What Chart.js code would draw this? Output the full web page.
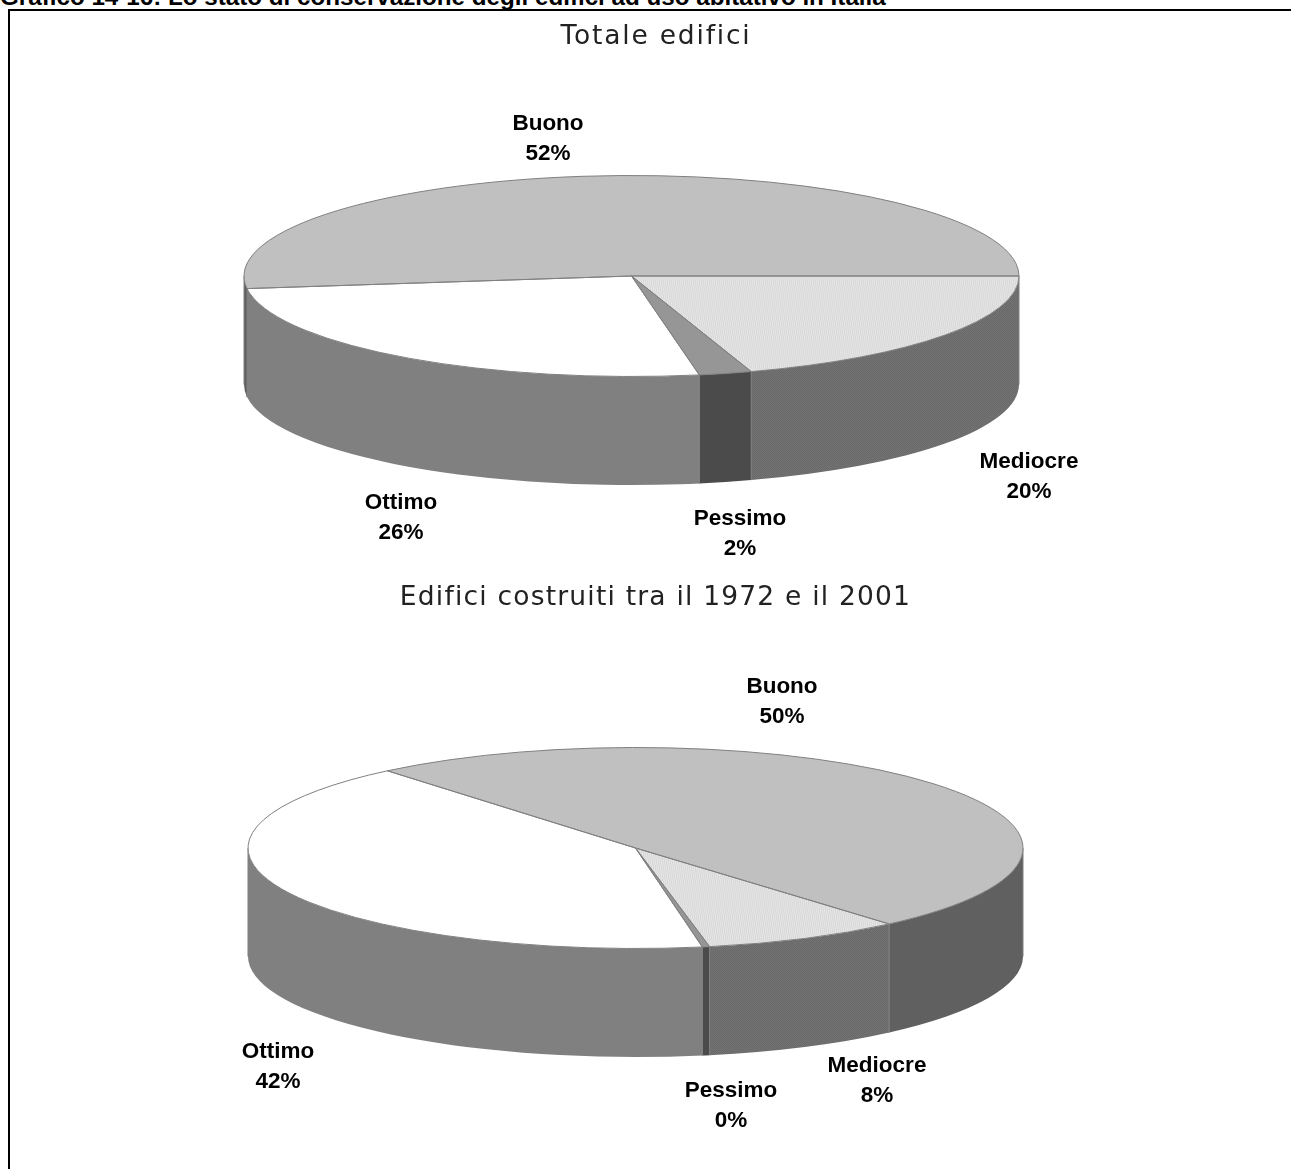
<!DOCTYPE html>
<html lang="it">
<head>
<meta charset="utf-8">
<title>Stato di conservazione degli edifici</title>
<script src="https://cdn.jsdelivr.net/npm/chart.js@4"></script>
<style>
    html, body { margin: 0; padding: 0; background: #fff; overflow: hidden; }
    body { width: 1291px; height: 1169px; position: relative; }
    #heading {
        position: absolute; left: 0; top: -17px; white-space: nowrap;
        font: bold 24.2px "Liberation Sans", Arial, sans-serif; color: #000;
    }
    #frame {
        position: absolute; left: 8px; top: 9px; right: 0; bottom: -10px;
        border-left: 2px solid #000; border-top: 2px solid #000;
        background: #fff;
    }
    canvas { position: absolute; left: 0; top: 0; }
</style>
</head>
<body>
<div id="heading">Grafico 14-16: Lo stato di conservazione degli edifici ad uso abitativo in Italia</div>
<div id="frame"></div>
<canvas id="chartTotale" width="1291" height="1169"></canvas>
<canvas id="chartRecenti" width="1291" height="1169"></canvas>
<script>
const categories = ["Mediocre", "Pessimo", "Ottimo", "Buono"];
const totaleValues = [20, 2.2, 25.8, 52];
const recentiValues = [8.3, 0.3, 41.7, 49.7];

const totaleTitle = "Totale edifici";
const recentiTitle = "Edifici costruiti tra il 1972 e il 2001";

// label centres, same order as categories
const totaleLabelPos = [[1029, 462], [740, 519], [401, 503], [548, 124]];
const recentiLabelPos = [[877, 1066], [731, 1091], [278, 1052], [782, 687]];

const RADIUS = 387.5;
const TILT = 100.5 / 387.5;
const DEPTH = 108.5;
const OUTLINE = "#808080";

// small checker used for the Mediocre slice
function makePattern(light, dark) {
    const c = document.createElement("canvas");
    c.width = 2;
    c.height = 2;
    const g = c.getContext("2d");
    g.fillStyle = light;
    g.fillRect(0, 0, 2, 2);
    g.fillStyle = dark;
    g.fillRect(0, 0, 1, 1);
    g.fillRect(1, 1, 1, 1);
    return g.createPattern(c, "repeat");
}

const topColors = [makePattern("#e6e6e6", "#d8d8d8"), "#969696", "#ffffff", "#c0c0c0"];
const wallColors = [makePattern("#727272", "#6a6a6a"), "#4b4b4b", "#808080", "#606060"];

// flattens the pie into an ellipse and gives it a side wall
const pie3d = {
    id: "pie3d",
    beforeDatasetsDraw(chart, args, opts) {
        const ctx = chart.ctx;
        const arcs = chart.getDatasetMeta(0).data;
        const cx = arcs[0].x;
        const cy = opts.centerY;
        const r = arcs[0].outerRadius;

        arcs.forEach((arc, i) => {
            for (let k = 0; k < 2; k++) {
                const from = Math.max(arc.startAngle, k * 2 * Math.PI);
                const to = Math.min(arc.endAngle, k * 2 * Math.PI + Math.PI);
                if (to <= from) continue;
                ctx.beginPath();
                ctx.ellipse(cx, cy, r, r * TILT, 0, from, to);
                ctx.ellipse(cx, cy + DEPTH, r, r * TILT, 0, to, from, true);
                ctx.closePath();
                ctx.fillStyle = wallColors[i];
                ctx.fill();
                ctx.strokeStyle = OUTLINE;
                ctx.lineWidth = 1;
                ctx.beginPath();
                [from, to].forEach(a => {
                    const x = cx + r * Math.cos(a);
                    const y = cy + r * TILT * Math.sin(a);
                    ctx.moveTo(x, y);
                    ctx.lineTo(x, y + DEPTH);
                });
                ctx.stroke();
            }
        });

        ctx.save();
        ctx.translate(cx, cy);
        ctx.scale(1, TILT);
        ctx.translate(-cx, -arcs[0].y);
    },
    afterDatasetsDraw(chart, args, opts) {
        const ctx = chart.ctx;
        ctx.restore();

        const arcs = chart.getDatasetMeta(0).data;
        const cx = arcs[0].x;
        const cy = opts.centerY;
        const r = arcs[0].outerRadius;

        // slice outlines, after the scale so the line stays 1px wide
        ctx.strokeStyle = OUTLINE;
        ctx.lineWidth = 1;
        arcs.forEach(arc => {
            ctx.beginPath();
            ctx.moveTo(cx, cy);
            ctx.ellipse(cx, cy, r, r * TILT, 0, arc.startAngle, arc.endAngle);
            ctx.closePath();
            ctx.stroke();
        });

        // title
        ctx.save();
        ctx.fillStyle = "#222";
        ctx.font = '26.5px "DejaVu Sans"';
        ctx.letterSpacing = opts.titleSpacing;
        ctx.textAlign = "center";
        ctx.textBaseline = "middle";
        ctx.fillText(opts.title, opts.titleX, opts.titleY);
        ctx.restore();

        // category name and percentage
        ctx.save();
        ctx.fillStyle = "#000";
        ctx.font = 'bold 22.5px "Liberation Sans"';
        ctx.textAlign = "center";
        ctx.textBaseline = "middle";
        chart.data.labels.forEach((label, i) => {
            const pos = opts.labelPos[i];
            const value = chart.data.datasets[0].data[i];
            ctx.fillText(label, pos[0], pos[1]);
            ctx.fillText(Math.round(value) + "%", pos[0], pos[1] + 30);
        });
        ctx.restore();
    }
};

function drawPie(canvasId, values, rotation, centerX, centerY, title, titleX, titleY, titleSpacing, labelPos) {
    return new Chart(document.getElementById(canvasId), {
        type: "pie",
        data: {
            labels: categories,
            datasets: [{
                data: values,
                backgroundColor: topColors,
                borderWidth: 0,
                clip: false
            }]
        },
        options: {
            responsive: false,
            animation: false,
            rotation: rotation,
            events: [],
            layout: {
                padding: { left: centerX - RADIUS, right: 1291 - centerX - RADIUS, top: 0, bottom: 0 }
            },
            plugins: {
                legend: { display: false },
                tooltip: { enabled: false },
                pie3d: { centerY, title, titleX, titleY, titleSpacing, labelPos }
            }
        },
        plugins: [pie3d]
    });
}

drawPie("chartTotale", totaleValues, 90, 631.5, 276, totaleTitle, 656, 37, "1.8px", totaleLabelPos);
drawPie("chartRecenti", recentiValues, 139.1, 635.5, 848, recentiTitle, 655.5, 598, "1.2px", recentiLabelPos);
</script>
</body>
</html>
